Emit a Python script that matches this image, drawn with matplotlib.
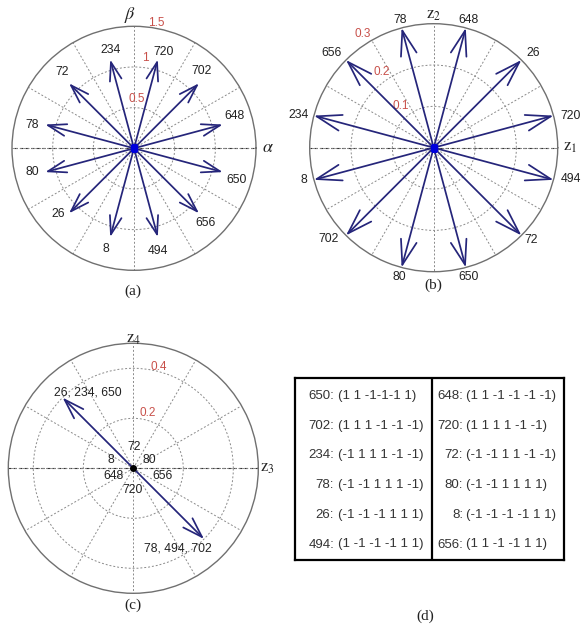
import numpy as np
import matplotlib
matplotlib.use('Agg')
import matplotlib.pyplot as plt

plt.rcParams['font.family'] = ['Liberation Sans', 'DejaVu Sans']
plt.rcParams['mathtext.fontset'] = 'stix'

# ---------------- data ----------------
# panel (a): alpha-beta plane
a_angles = [15, 45, 75, 105, 135, 165, 195, 225, 255, 285, 315, 345]
a_labels = ['648', '702', '720', '234', '72', '78', '80', '26', '8', '494', '656', '650']
a_mags = [1.13, 1.13, 1.13, 1.13, 1.13, 1.13, 1.13, 1.13, 1.13, 1.13, 1.13, 1.13]
a_rings = [0.5, 1.0]
a_rmax = 1.5
a_ring_labels = ['0.5', '1', '1.5']

# panel (b): z1-z2 plane
b_angles = [15, 45, 75, 105, 135, 165, 195, 225, 255, 285, 315, 345]
b_labels = ['720', '26', '648', '78', '656', '234', '8', '702', '80', '650', '72', '494']
b_mags = [0.3, 0.3, 0.3, 0.3, 0.3, 0.3, 0.3, 0.3, 0.3, 0.3, 0.3, 0.3]
b_rings = [0.1, 0.2]
b_rmax = 0.3
b_ring_labels = ['0.1', '0.2', '0.3']

# panel (c): z3-z4 plane
c_angles = [135, 315]
c_labels = ['26, 234, 650', '78, 494, 702']
c_mags = [0.4, 0.4]
c_zero_labels = ['72', '8', '80', '648', '656', '720']
c_rings = [0.2, 0.4]
c_rmax = 0.5
c_ring_labels = ['0.2', '0.4']

# panel (d): switching states table
tbl_left_keys = ['650', '702', '234', '78', '26', '494']
tbl_left_vals = ['(1 1 -1-1-1 1)', '(1 1 1 -1 -1 -1)', '(-1 1 1 1 -1 -1)',
                 '(-1 -1 1 1 1 -1)', '(-1 -1 -1 1 1 1)', '(1 -1 -1 -1 1 1)']
tbl_right_keys = ['648', '720', '72', '80', '8', '656']
tbl_right_vals = ['(1 1 -1 -1 -1 -1)', '(1 1 1 1 -1 -1)', '(-1 -1 1 1 -1 -1)',
                  '(-1 -1 1 1 1 1)', '(-1 -1 -1 -1 1 1)', '(1 1 -1 -1 1 1)']

# ---------------- layout ----------------
W, H, DPI = 584, 627, 100
ARROW_C = '#25257a'
GRID_C = '#8a8a8a'
RED = '#c8504a'
TXT = '#222222'
LFS = 8.8

a_off = [(12, 9), (3, 12), (6, 8), (0, 10), (-7, 11), (-13, 0), (-13, 0),
         (-11, -1), (-4, -12), (0, -14), (7, -10), (14, -8)]
b_off = [(17, 0), (12, 7), (3, 8), (-1, 8), (-15, 7), (-15, 1), (-10, 0),
         (-17, -4), (-2, -10), (3, -10), (10, -5), (17, 1)]
c_off = [(25, 5), (-26, -9)]
c_zero_off = [(1, 21), (-22, 8), (16, 8), (-20, -8), (29, -8), (-1, -22)]

a_rl_pos = [(87, 0.61), (83, 1.12), (80, 1.56)]
b_rl_pos = [(128, 0.128), (124.5, 0.223), (122, 0.324)]
c_rl_pos = [(75.7, 0.23), (76, 0.416)]

fig = plt.figure(figsize=(W / DPI, H / DPI), dpi=DPI)


def make_polar(cx, cy, R, rings, rmax):
    ax = fig.add_axes([(cx - R) / W, 1 - (cy + R) / H, 2 * R / W, 2 * R / H],
                      projection='polar')
    ax.set_ylim(0, rmax)
    ax.set_thetagrids(np.arange(0, 360, 30))
    ax.set_rgrids(rings)
    ax.tick_params(labelbottom=False, labelleft=False, length=0)
    ax.grid(True, color=GRID_C, linestyle=(0, (2, 2)), linewidth=0.7)
    ax.spines['polar'].set_color('#707070')
    ax.spines['polar'].set_linewidth(1.0)
    for th in (0, np.pi):
        ax.plot([th, th], [0, rmax], color='#333333', linestyle=(0, (3, 2)),
                linewidth=0.8, zorder=1)
    ax.set_facecolor('white')
    return ax


def draw_vectors(ax, angles, mags, labels, offs, R, rmax):
    ppu = R / rmax
    for ang, m, lab, off in zip(angles, mags, labels, offs):
        th = np.deg2rad(ang)
        L = m * ppu * 72 / DPI
        ax.annotate('', xy=(th, m), xytext=(0, 0),
                    arrowprops=dict(arrowstyle='->,head_length=%f,head_width=%f' % (0.2 * L, 0.065 * L),
                                    color=ARROW_C, lw=1.25, shrinkA=0, shrinkB=0,
                                    mutation_scale=1), zorder=4)
        ax.annotate(lab, xy=(th, m), xytext=off, textcoords='offset pixels',
                    ha='center', va='center', fontsize=LFS, color=TXT,
                    annotation_clip=False)


def ring_labels(ax, labels, pos):
    for lab, (ang, r) in zip(labels, pos):
        ax.text(np.deg2rad(ang), r, lab, ha='center', va='center',
                fontsize=8.5, color=RED, clip_on=False)


def axis_name(ax, text, th_deg, rmax, off, size=12):
    ax.annotate(text, xy=(np.deg2rad(th_deg), rmax), xytext=off,
                textcoords='offset pixels', ha='center', va='center',
                fontsize=size, color='#222222', annotation_clip=False)


# (a)
Ra = 122
axa = make_polar(134, 148.3, Ra, a_rings, a_rmax)
draw_vectors(axa, a_angles, a_mags, a_labels, a_off, Ra, a_rmax)
axa.plot([0], [0], 's', color='#0000dd', markersize=5, zorder=5)
ring_labels(axa, a_ring_labels, a_rl_pos)
axis_name(axa, r'$\alpha$', 0, a_rmax, (12, 1), 13)
axis_name(axa, r'$\beta$', 90, a_rmax, (-4, 11), 13)

# (b)
Rb = 124
axb = make_polar(433.7, 147.7, Rb, b_rings, b_rmax)
draw_vectors(axb, b_angles, b_mags, b_labels, b_off, Rb, b_rmax)
axb.plot([0], [0], 's', color='#0000dd', markersize=5, zorder=5)
ring_labels(axb, b_ring_labels, b_rl_pos)
axis_name(axb, r'$\mathrm{z}_{1}$', 0, b_rmax, (12, 0), 12)
axis_name(axb, r'$\mathrm{z}_{2}$', 90, b_rmax, (0, 8), 12)

# (c)
Rc = 125
axc = make_polar(133.3, 468.3, Rc, c_rings, c_rmax)
draw_vectors(axc, c_angles, c_mags, c_labels, c_off, Rc, c_rmax)
axc.plot([0], [0], 'o', color='black', markersize=4, zorder=5)
for lab, off in zip(c_zero_labels, c_zero_off):
    axc.annotate(lab, xy=(0, 0), xytext=off, textcoords='offset pixels',
                 ha='center', va='center', fontsize=LFS, color=TXT)
ring_labels(axc, c_ring_labels, c_rl_pos)
axis_name(axc, r'$\mathrm{z}_{3}$', 0, c_rmax, (9, 0), 12)
axis_name(axc, r'$\mathrm{z}_{4}$', 90, c_rmax, (0, 4), 12)

# (d) table
x0, x1, y0, y1 = 294.7, 563.7, 378.3, 560.0
axd = fig.add_axes([x0 / W, 1 - y1 / H, (x1 - x0) / W, (y1 - y0) / H])
axd.set_xlim(x0, x1)
axd.set_ylim(y1, y0)
axd.set_xticks([])
axd.set_yticks([])
for s in axd.spines.values():
    s.set_linewidth(1.6)
    s.set_color('black')
axd.axvline(432, color='black', lw=1.6)
TFS = 9.5
row_y = np.linspace(396, 544.5, len(tbl_left_keys))
for y, k, v in zip(row_y, tbl_left_keys, tbl_left_vals):
    axd.text(334, y, k + ':', ha='right', va='center', fontsize=TFS, color='#333333')
    axd.text(337.5, y, v, ha='left', va='center', fontsize=TFS, color='#333333')
for y, k, v in zip(row_y, tbl_right_keys, tbl_right_vals):
    axd.text(463, y, k + ':', ha='right', va='center', fontsize=TFS, color='#333333')
    axd.text(466.5, y, v, ha='left', va='center', fontsize=TFS, color='#333333')

# captions
for txt, (cx, cy) in zip(['(a)', '(b)', '(c)', '(d)'],
                         [(133, 291.7), (433.7, 285), (133.3, 605), (425.3, 616.7)]):
    fig.text(cx / W, 1 - cy / H, txt, ha='center', va='center', fontsize=11,
             family='Liberation Serif', color='#222222')

fig.savefig('out.png', dpi=DPI)
